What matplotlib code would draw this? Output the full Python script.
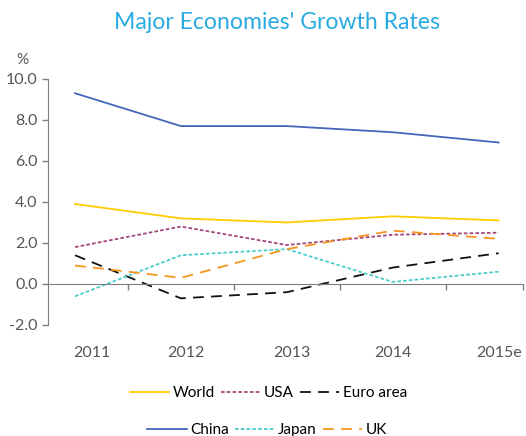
from matplotlib import pyplot as plt
from matplotlib.ticker import FixedLocator
import numpy as np

# Data
years = ["2011", "2012", "2013", "2014", "2015e"]

world = [3.9, 3.2, 3.0, 3.3, 3.1]
usa = [1.8, 2.8, 1.9, 2.4, 2.5]
euro = [1.4, -0.7, -0.4, 0.8, 1.5]
china = [9.3, 7.7, 7.7, 7.4, 6.9]
japan = [-0.6, 1.4, 1.7, 0.1, 0.6]
uk = [0.9, 0.3, 1.7, 2.6, 2.2]

yticks = [-2.0, 0.0, 2.0, 4.0, 6.0, 8.0, 10.0]

plt.rcParams["font.family"] = ["Lato", "DejaVu Sans"]
grey = "#7f7f7f"

fig = plt.figure(figsize=(5.26, 4.36), dpi=100)
ax = fig.add_axes([0.0913, 0.2546, 0.903, 0.5644])

x = np.arange(len(years))

l_world, = ax.plot(x, world, color="#ffcc00", linewidth=1.3, label="World")
l_usa, = ax.plot(x, usa, color="#a3477b", linewidth=1.3, linestyle=(0, (2, 1.2)), label="USA")
l_euro, = ax.plot(x, euro, color="#111111", linewidth=1.3, linestyle=(0, (6, 4)), label="Euro area")
l_china, = ax.plot(x, china, color="#4466bb", linewidth=1.3, label="China")
l_japan, = ax.plot(x, japan, color="#4ccccc", linewidth=1.3, linestyle=(0, (2, 1.2)), label="Japan")
l_uk, = ax.plot(x, uk, color="#f7961e", linewidth=1.3, linestyle=(0, (6, 4)), label="UK")

ax.set_xlim(-0.255, 4.23)
ax.set_ylim(-2, 10)

# Formating
for s in ["top", "right"]:
    ax.spines[s].set_visible(False)
ax.spines["left"].set_color(grey)
ax.spines["bottom"].set_color(grey)
ax.spines["bottom"].set_position(("data", 0))

ax.set_yticks(yticks)
ax.set_yticklabels([f"{v:.1f}" for v in yticks], color="#555555", fontsize=11.5)
ax.tick_params(axis="y", colors=grey, labelcolor="#555555", length=4, width=1)

ax.xaxis.set_major_locator(FixedLocator([0.5, 1.5, 2.5, 3.5, 4.23]))
ax.xaxis.set_ticklabels([])
ax.tick_params(axis="x", colors=grey, length=4, width=1, direction="out")
for i, lab in enumerate(years):
    xi = i + 0.16 if i == 0 else i + 0.05 * (i < 3)
    ax.text(xi, -3.35, lab, ha="center", va="center", color="#555555", fontsize=11.5)

ax.text(-0.5, 10.6, "%", ha="center", va="bottom", color="#555555", fontsize=11)

fig.text(0.527, 0.948, "Major Economies' Growth Rates", ha="center", va="center",
         color="#29abe2", fontsize=16.6)

leg1 = fig.legend(handles=[l_world, l_usa, l_euro], loc="center", bbox_to_anchor=(0.51, 0.098),
                  ncol=3, frameon=False, fontsize=11, handlelength=2.6,
                  handletextpad=0.2, columnspacing=0.4)
leg2 = fig.legend(handles=[l_china, l_japan, l_uk], loc="center", bbox_to_anchor=(0.508, 0.013),
                  ncol=3, frameon=False, fontsize=11, handlelength=2.6,
                  handletextpad=0.2, columnspacing=0.4)

plt.savefig("out.png", dpi=100)
